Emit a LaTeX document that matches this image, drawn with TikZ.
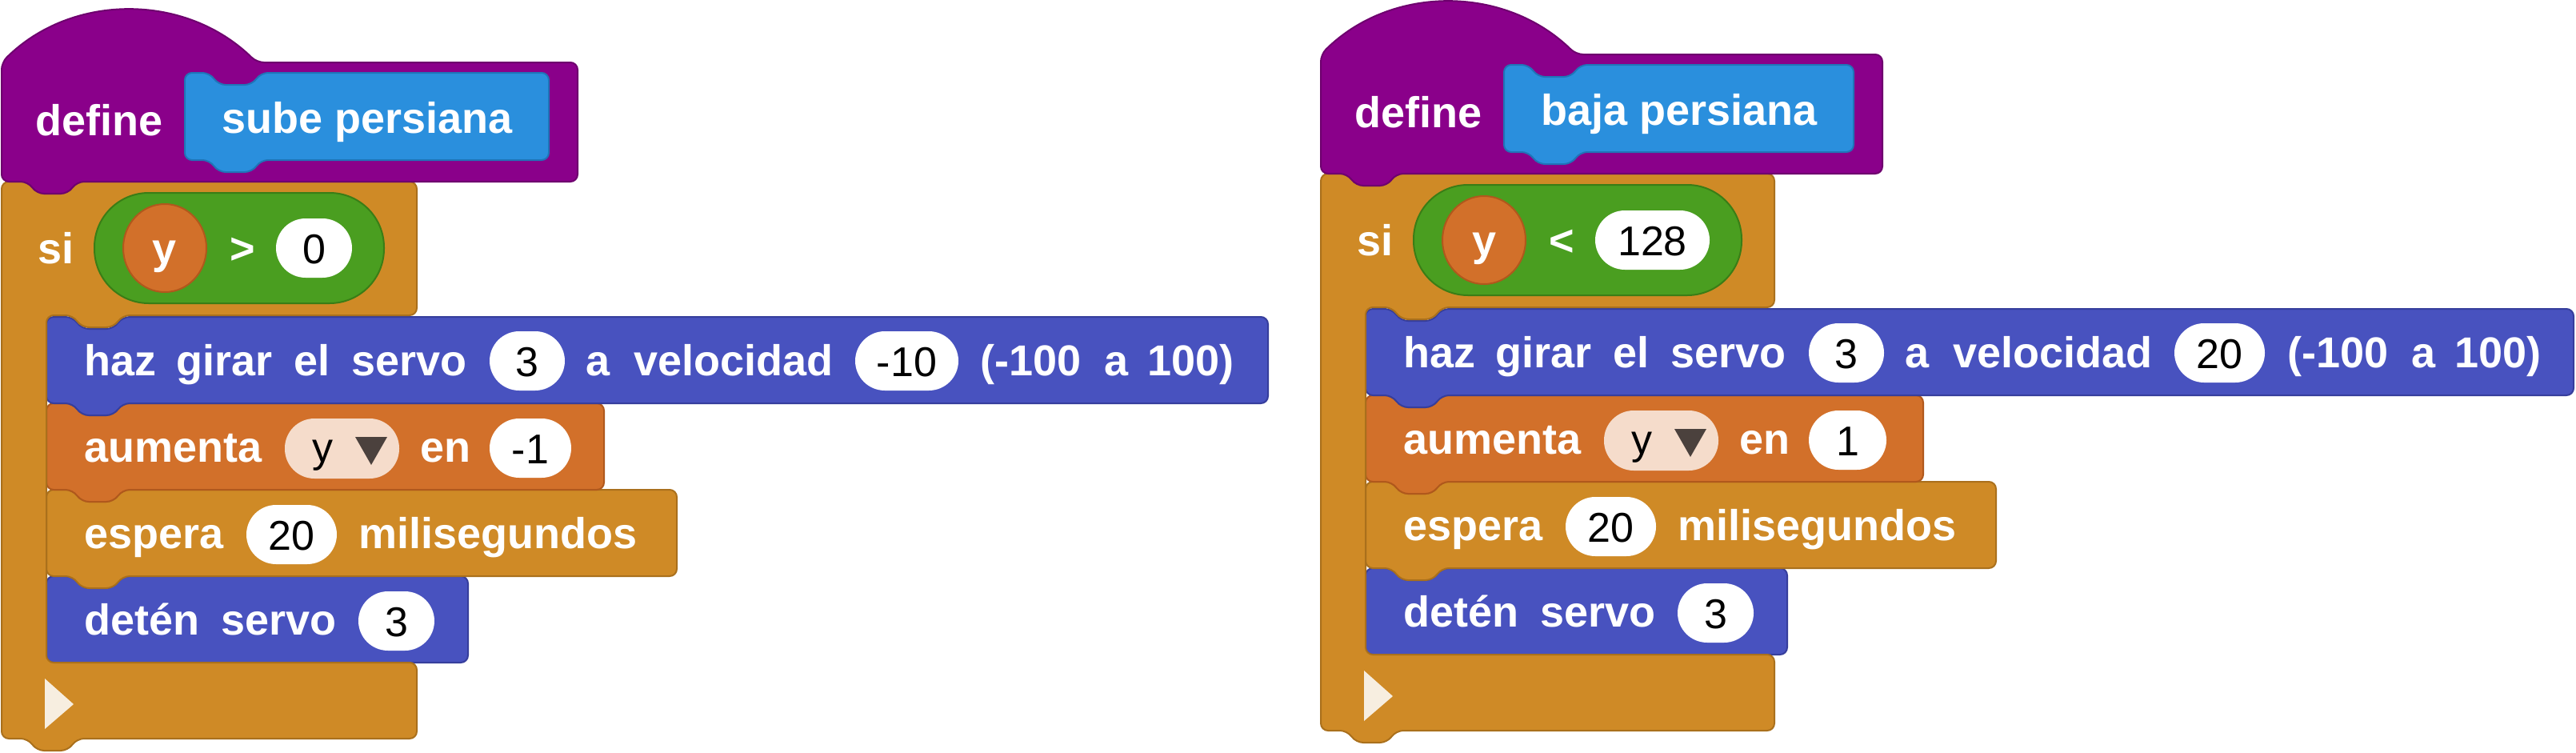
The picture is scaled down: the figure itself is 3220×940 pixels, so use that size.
\documentclass[tikz,border=0pt]{standalone}
\usepackage{fontspec}
\setmainfont{Liberation Sans}
\definecolor{cpur}{HTML}{8A008A}\definecolor{cpurD}{HTML}{6E006E}
\definecolor{cname}{HTML}{2A8FDD}\definecolor{cnameD}{HTML}{1F74B8}
\definecolor{cblu}{HTML}{4852BF}\definecolor{cbluD}{HTML}{363E9C}
\definecolor{cora}{HTML}{D2702A}\definecolor{coraD}{HTML}{B0581C}
\definecolor{cgol}{HTML}{CF8A26}\definecolor{cgolD}{HTML}{AA701C}
\definecolor{cgre}{HTML}{4A9E20}\definecolor{cgreD}{HTML}{3A7D16}
\definecolor{cpil}{HTML}{F5DCCB}\definecolor{ctri}{HTML}{4B413D}
\definecolor{carr}{HTML}{F7EEE0}
\tikzset{
 blk/.style={line width=2pt,rounded corners=9pt,line join=round},
 wt/.style={inner sep=0pt,anchor=base west,text=white,font=\fontsize{54}{60}\selectfont\bfseries},
 nt/.style={inner sep=0pt,anchor=base,text=black,font=\fontsize{52}{60}\selectfont},
 pillst/.style={fill=white,draw=none,rounded corners=37pt},
}
\newcommand\stmt[5]{\draw[blk,#5] (#1,#2) -- (#1+33,#2) -- (#1+44,#2+15) -- (#1+84,#2+15) -- (#1+95,#2) -- (#3,#2) -- (#3,#4) -- (#1+95,#4) -- (#1+84,#4+15) -- (#1+44,#4+15) -- (#1+33,#4) -- (#1,#4) -- cycle;}
\newcommand\pill[5]{\draw[pillst] (#2,#4-37) rectangle (#3,#4+37); \node[nt] (#1) at ({(#2+#3)/2},#4+19) {#5};}
\begin{document}
\begin{tikzpicture}[x=1pt,y=-1pt]
\useasboundingbox (0,0) rectangle (3220,940);
\foreach \G/\dx/\dy/\nameR/\defR/\nameT/\cmp/\numT/\numR/\greR/\ifR/\spdT/\spdR/\parX/\blueR/\incT/\incR in
 {L/0/0/686/722/sube persiana/>/0/440/480/521/-10/1198/1225/1585/-1/714,
  R/1649/-10/668/704/baja persiana/</128/488/528/569/20/1182/1210/1568/1/709}{
\begin{scope}[shift={(\dx,\dy)}]
 \stmt{58}{720}{585}{828}{fill=cblu,draw=cbluD}
 \stmt{58}{612}{846}{720}{fill=cgol,draw=cgolD}
 \stmt{58}{504}{755}{612}{fill=cora,draw=coraD}
 \stmt{58}{396}{\blueR}{504}{fill=cblu,draw=cbluD}
 \draw[blk,fill=cgol,draw=cgolD] (2,227) -- (35,227) -- (46,242) -- (85,242) -- (96,227) -- (\ifR,227) -- (\ifR,394) -- (153,394) -- (142,409) -- (102,409) -- (91,394) -- (58,394) -- (58,828) -- (\ifR,828) -- (\ifR,923) -- (96,923) -- (85,938) -- (46,938) -- (35,923) -- (2,923) -- cycle;
 \fill[carr] (56,848) -- (92,880) -- (56,911) -- cycle;
 \draw[blk,fill=cpur,draw=cpurD] (2,78) .. controls (90,-9) and (232,-9) .. (321,78) -- (\defR,78) -- (\defR,227) -- (96,227) -- (85,242) -- (46,242) -- (35,227) -- (2,227) -- cycle;
 \draw[blk,fill=cname,draw=cnameD] (231,91) -- (262,91) -- (273,106) -- (315,106) -- (326,91) -- (\nameR,91) -- (\nameR,200) -- (326,200) -- (315,215) -- (273,215) -- (262,200) -- (231,200) -- cycle;
 \node[wt] (def\G) at (44,169) {define};
 \node[wt] (nm\G) at (277,166) {\nameT};
 \draw[line width=2pt,fill=cgre,draw=cgreD,rounded corners=68pt] (118,241) rectangle (\greR,379);
 \draw[line width=2pt,fill=cora,draw=coraD] (206,310) ellipse [x radius=52,y radius=55];
 \node[wt,anchor=base] (yv\G) at (206,329) {y};
 \node[wt] (si\G) at (47,329) {si};
 \node[wt,anchor=base] (cmp\G) at (303,329) {\cmp};
 \pill{num\G}{345}{\numR}{310}{\numT}
 \node[wt] (w1\G) at (105,469) {haz};
 \node[wt] (w2\G) at (220,469) {girar};
 \node[wt] (w3\G) at (367,469) {el};
 \node[wt] (w4\G) at (439,469) {servo};
 \pill{sv\G}{612}{706}{451}{3}
 \node[wt] (w5\G) at (732,469) {a};
 \node[wt] (w6\G) at (792,469) {velocidad};
 \pill{sp\G}{1069}{\spdR}{451}{\spdT}
 \node[wt] (w7\G) at (\parX,469) {(-100};
 \node[wt] (w8\G) at (\parX+155,469) {a};
 \node[wt] (w9\G) at (\parX+209,469) {100)};
 \node[wt] (au\G) at (105,577) {aumenta};
 \draw[fill=cpil,draw=none,rounded corners=37pt] (356,523) rectangle (499,598);
 \node[nt,anchor=base west] (yd\G) at (390,577) {y};
 \fill[ctri] (444,546) -- (484,546) -- (464,581) -- cycle;
 \node[wt] (en\G) at (525,577) {en};
 \pill{inc\G}{612}{\incR}{560}{\incT}
 \node[wt] (es\G) at (105,685) {espera};
 \pill{ms\G}{308}{421}{668}{20}
 \node[wt] (mi\G) at (448,685) {milisegundos};
 \node[wt] (de\G) at (105,793) {detén};
 \node[wt] (se\G) at (276,793) {servo};
 \pill{ds\G}{448}{543}{776}{3}
\end{scope}}
\end{tikzpicture}
\end{document}
